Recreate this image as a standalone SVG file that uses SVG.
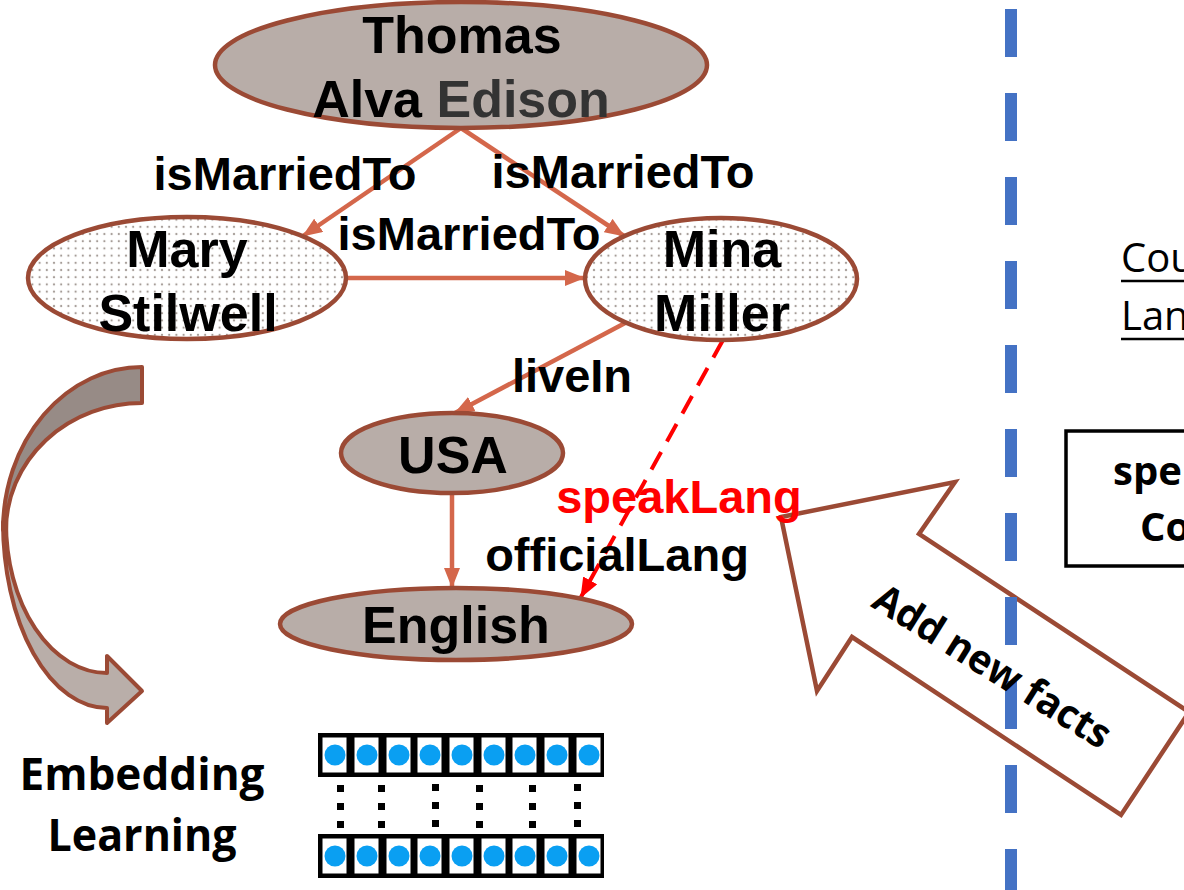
<svg xmlns="http://www.w3.org/2000/svg" width="1184" height="890" viewBox="0 0 1184 890">
<style>
.node{fill:#b8ada8;stroke:#9b4a35;stroke-width:4.5}
.dot{fill:url(#dots);stroke:#9b4a35;stroke-width:4.5}
.nt{font-family:"Liberation Sans",Arial,sans-serif;font-weight:bold;font-size:52px;text-anchor:middle;fill:#000}
.el{font-family:"Liberation Sans",Arial,sans-serif;font-weight:bold;font-size:47px;text-anchor:middle;fill:#000}
.edge{stroke:#d4674b;stroke-width:4.5;fill:none}
.cal{font-family:"Open Sans","Noto Sans",sans-serif;fill:#000}
.cell{fill:#000}
.in{fill:#fff}
.bl{fill:#0a9ff2}
</style>
<defs>
<pattern id="dots" width="7.2" height="7.2" patternUnits="userSpaceOnUse">
<rect width="7.2" height="7.2" fill="#fff"/>
<circle cx="3.6" cy="3.6" r="1.1" fill="#a59c97"/>
</pattern>
<marker id="ah" markerUnits="userSpaceOnUse" markerWidth="20" markerHeight="16" viewBox="0 0 20 16" refX="19" refY="8" orient="auto">
<path d="M0,0 L20,8 L0,16 z" fill="#d4674b"/>
</marker>
<marker id="ahr" markerUnits="userSpaceOnUse" markerWidth="20" markerHeight="16" viewBox="0 0 20 16" refX="19" refY="8" orient="auto">
<path d="M0,0 L20,8 L0,16 z" fill="#ff0000"/>
</marker>
<g id="cellT">
<rect class="cell" x="0" y="0" width="32" height="44"/>
<rect class="in" x="4.5" y="4.5" width="24" height="35"/>
<circle class="bl" cx="17" cy="22" r="10.5"/>
</g>
</defs>
<rect width="1184" height="890" fill="#fff"/>

<g id="connectors">
<line class="edge" x1="461" y1="128" x2="303" y2="236" marker-end="url(#ah)"/>
<line class="edge" x1="461" y1="128" x2="624" y2="236" marker-end="url(#ah)"/>
<line class="edge" x1="347" y1="278" x2="584" y2="278" marker-end="url(#ah)"/>
<line class="edge" x1="627" y1="322" x2="455" y2="413" marker-end="url(#ah)"/>
<line class="edge" x1="452" y1="493" x2="452" y2="587" marker-end="url(#ah)"/>
<line x1="723" y1="340" x2="581" y2="597" stroke="#ff0000" stroke-width="4" stroke-dasharray="20 12" marker-end="url(#ahr)"/>
</g>

<g id="node-thomas">
<ellipse class="node" cx="461" cy="65" rx="246" ry="63"/>
<text class="nt" x="462" y="53">Thomas</text>
<text class="nt" x="461" y="117">Alva <tspan fill="#333333">Edison</tspan></text>
</g>
<g id="node-mary">
<ellipse class="dot" cx="187" cy="278" rx="159" ry="61"/>
<text class="nt" x="187" y="267">Mary</text>
<text class="nt" x="188" y="331">Stilwell</text>
</g>
<g id="node-mina">
<ellipse class="dot" cx="721" cy="279" rx="136" ry="61"/>
<text class="nt" x="722" y="267">Mina</text>
<text class="nt" x="722" y="331">Miller</text>
</g>
<g id="node-usa">
<ellipse class="node" cx="452" cy="453" rx="111" ry="40"/>
<text class="nt" x="453" y="473">USA</text>
</g>
<g id="node-english">
<ellipse class="node" cx="456" cy="624" rx="176" ry="36"/>
<text class="nt" x="456" y="643">English</text>
</g>

<g id="add-arrow">
<path d="M781,517 L955,482 L919,534 L1189,712 L1121,815 L852,637 L817,691 Z" fill="#fff" stroke="#9b4a35" stroke-width="4.5" stroke-linejoin="miter"/>
</g>

<g id="divider">
<line x1="1011" y1="9" x2="1011" y2="890" stroke="#4472c4" stroke-width="12" stroke-dasharray="48 36"/>
</g>

<g id="edge-labels">
<text class="el" x="285" y="190">isMarriedTo</text>
<text class="el" x="623" y="188">isMarriedTo</text>
<text class="el" x="469" y="250">isMarriedTo</text>
<text class="el" x="572" y="392">liveIn</text>
<text class="el" x="679" y="513" style="fill:#ff0000">speakLang</text>
<text class="el" x="617" y="571">officialLang</text>
</g>

<g id="curved-arrow">
<path d="M142,367 A139,163 0 0 0 3,530 L6,530 A136,127 0 0 1 142,403 Z" fill="#978b86" stroke="#9b4a35" stroke-width="4" stroke-linejoin="round"/>
<path d="M3,522 A104,186 0 0 0 107,708 L107,723 L142,691 L107,656 L107,673 A101,150 0 0 1 6,522 Z" fill="#b9aea9" stroke="#9b4a35" stroke-width="4" stroke-linejoin="round"/>
</g>

<g id="embedding-label">
<text class="cal" x="142" y="790" font-size="44" font-weight="bold" text-anchor="middle" textLength="245" lengthAdjust="spacingAndGlyphs">Embedding</text>
<text class="cal" x="142" y="851" font-size="44" font-weight="bold" text-anchor="middle" textLength="189" lengthAdjust="spacingAndGlyphs">Learning</text>
</g>

<g id="embeddings">
<use href="#cellT" x="318" y="733"/>
<use href="#cellT" x="350" y="733"/>
<use href="#cellT" x="382" y="733"/>
<use href="#cellT" x="413" y="733"/>
<use href="#cellT" x="445" y="733"/>
<use href="#cellT" x="477" y="733"/>
<use href="#cellT" x="508" y="733"/>
<use href="#cellT" x="540" y="733"/>
<use href="#cellT" x="572" y="733"/>
<use href="#cellT" x="318" y="834"/>
<use href="#cellT" x="350" y="834"/>
<use href="#cellT" x="382" y="834"/>
<use href="#cellT" x="413" y="834"/>
<use href="#cellT" x="445" y="834"/>
<use href="#cellT" x="477" y="834"/>
<use href="#cellT" x="508" y="834"/>
<use href="#cellT" x="540" y="834"/>
<use href="#cellT" x="572" y="834"/>
<g fill="#000">
<rect x="337" y="785" width="7" height="7"/><rect x="337" y="803" width="7" height="7"/><rect x="337" y="821" width="7" height="7"/>
<rect x="378" y="785" width="7" height="7"/><rect x="378" y="803" width="7" height="7"/><rect x="378" y="821" width="7" height="7"/>
<rect x="432" y="784" width="7" height="7"/><rect x="432" y="802" width="7" height="7"/><rect x="432" y="820" width="7" height="7"/>
<rect x="476" y="785" width="7" height="7"/><rect x="476" y="803" width="7" height="7"/><rect x="476" y="821" width="7" height="7"/>
<rect x="529" y="785" width="7" height="7"/><rect x="529" y="803" width="7" height="7"/><rect x="529" y="821" width="7" height="7"/>
<rect x="574" y="784" width="7" height="7"/><rect x="574" y="802" width="7" height="7"/><rect x="574" y="820" width="7" height="7"/>
</g>
</g>

<g id="right-panel">
<text class="cal" x="1121" y="272" font-size="40">Cou</text>
<line x1="1121" y1="281" x2="1184" y2="281" stroke="#000" stroke-width="2.5"/>
<text class="cal" x="1121" y="330" font-size="40">Lan</text>
<line x1="1121" y1="339" x2="1184" y2="339" stroke="#000" stroke-width="2.5"/>
<rect x="1066" y="431" width="130" height="135" fill="none" stroke="#000" stroke-width="3.5"/>
<text class="cal" x="1113" y="485" font-size="40" font-weight="bold">spe</text>
<text class="cal" x="1140" y="541" font-size="40" font-weight="bold">Co</text>
</g>

<g id="add-label">
<text class="cal" transform="translate(985,678) rotate(32)" x="0" y="0" font-size="40" font-weight="bold" text-anchor="middle" textLength="272" lengthAdjust="spacingAndGlyphs">Add new facts</text>
</g>
</svg>
